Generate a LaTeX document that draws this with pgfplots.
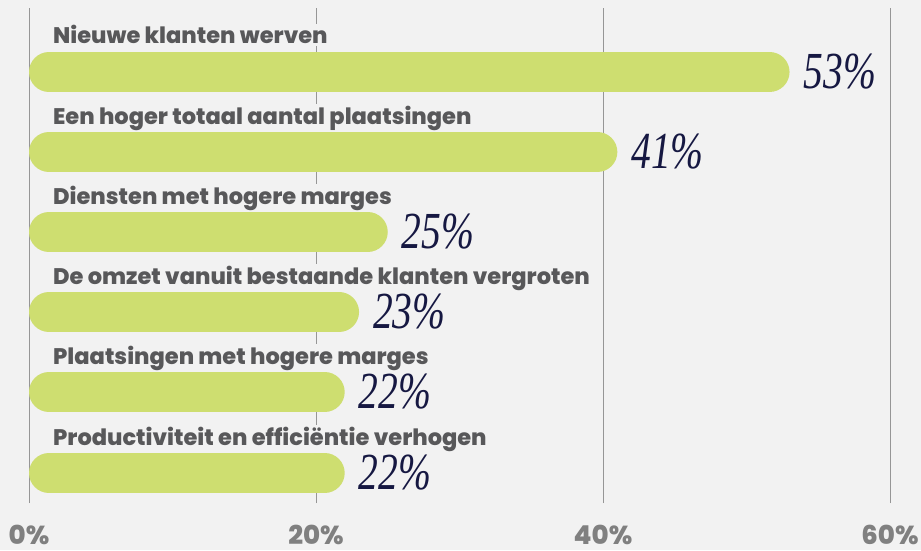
\documentclass[border=0pt]{standalone}
\usepackage{pgfplots}
\pgfplotsset{compat=1.18}
\usetikzlibrary{backgrounds}
\usepackage{fontspec}
\setmainfont{Poppins}
\newfontfamily\labfont{Poppins}[UprightFont={* ExtraBold}]
\newfontfamily\valfont[FakeStretch=0.76]{Liberation Serif}
\definecolor{bgc}{RGB}{242,242,242}
\definecolor{barc}{RGB}{206,222,112}
\definecolor{labc}{RGB}{88,88,90}
\definecolor{valc}{RGB}{22,24,66}
\definecolor{tickc}{RGB}{128,128,128}
\definecolor{gridc}{RGB}{150,150,150}
\newcommand\roundbar[2]{%
  \addplot[barc, line width=40pt, line cap=round, shorten <=20pt, shorten >=20pt]
    coordinates {(0,#2) (#1,#2)}
    node[pos=1, anchor=west, xshift=-6pt, text=valc, inner sep=0pt,
         font=\fontsize{52}{52}\selectfont\valfont\itshape]
    {\pgfmathprintnumber{#1}\%};%
}
\begin{document}
\begin{tikzpicture}[x=1pt,y=1pt]
\begin{axis}[
  scale only axis, width=861pt, height=495pt,
  xmin=0, xmax=60, ymin=-503, ymax=-8,
  axis line style={draw=none},
  major tick length=0pt,
  ytick=\empty,
  xtick={0,20,40,60},
  xmajorgrids,
  grid style={gridc, line width=0.9pt},
  /pgf/number format/assume math mode=true,
  xticklabel={\pgfmathprintnumber{\tick}\%},
  xticklabel style={font=\fontsize{26}{26}\selectfont\labfont, text=tickc, anchor=base, inner sep=0pt, yshift=-41pt},
  clip=false,
]
\coordinate (O) at (rel axis cs:0,0);
\roundbar{53}{-72}
\roundbar{41}{-152}
\roundbar{25}{-232}
\roundbar{23}{-312}
\roundbar{22}{-392}
\roundbar{22}{-473}
\begin{scope}[every node/.style={anchor=base west, fill=bgc, inner xsep=1pt, inner ysep=2pt, text=labc, font=\fontsize{22.5}{23}\selectfont\labfont}]
\node at (axis cs:1.6,-44) {Nieuwe klanten werven};
\node at (axis cs:1.6,-124) {Een hoger totaal aantal plaatsingen};
\node at (axis cs:1.6,-204) {Diensten met hogere marges};
\node at (axis cs:1.6,-284) {De omzet vanuit bestaande klanten vergroten};
\node at (axis cs:1.6,-364) {Plaatsingen met hogere marges};
\node at (axis cs:1.6,-445) {Productiviteit en efficiëntie verhogen};
\end{scope}
\end{axis}
\pgfresetboundingbox
\path[use as bounding box] ([shift={(-29pt,-47pt)}]O) rectangle ++(921pt,550pt);
\begin{scope}[on background layer]
\fill[bgc] ([shift={(-29pt,-47pt)}]O) rectangle ++(921pt,550pt);
\end{scope}
\end{tikzpicture}
\end{document}
